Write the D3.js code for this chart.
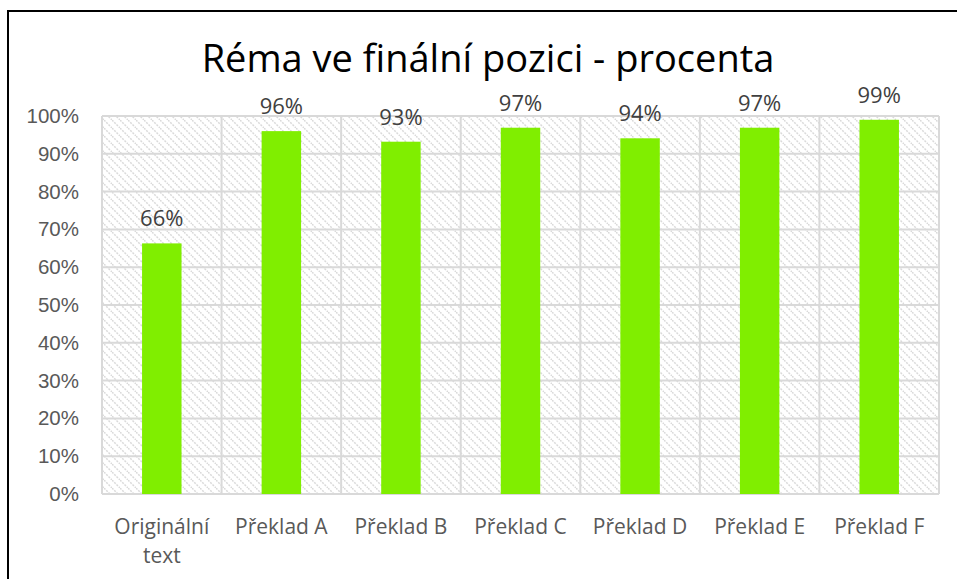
<!DOCTYPE html>
<html><head><meta charset="utf-8">
<script src="https://cdn.jsdelivr.net/npm/d3@7"></script>
<style>
body{margin:0;background:#fff;}
svg{display:block;font-family:"Open Sans","Noto Sans",sans-serif;}
</style></head>
<body>
<svg id="c" width="957" height="579"></svg>
<script>
const title = "Réma ve finální pozici - procenta";
const categories = ["Originální text","Překlad A","Překlad B","Překlad C","Překlad D","Překlad E","Překlad F"];
const categoryLines = [["Originální","text"],["Překlad A"],["Překlad B"],["Překlad C"],["Překlad D"],["Překlad E"],["Překlad F"]];
const values = [0.663,0.96,0.932,0.969,0.941,0.969,0.99];
const valueLabels = ["66%","96%","93%","97%","94%","97%","99%"];
const yTicks = [0,0.1,0.2,0.3,0.4,0.5,0.6,0.7,0.8,0.9,1.0];

const svg = d3.select("#c");
const m = {left:102, right:939, top:116, bottom:494};

svg.append("rect").attr("x",8).attr("y",11).attr("width",960).attr("height",600)
  .attr("fill","#fff").attr("stroke","#000").attr("stroke-width",2);

const defs = svg.append("defs");
const pat = defs.append("pattern").attr("id","hatch").attr("patternUnits","userSpaceOnUse")
  .attr("width",8).attr("height",8);
pat.append("rect").attr("width",8).attr("height",8).attr("fill","#fff");
pat.append("path").attr("d","M-2,6 L2,10 M0,0 L8,8 M6,-2 L10,2")
  .attr("stroke","#dadada").attr("stroke-width",1.5).attr("stroke-dasharray","2,1.2");

const x = d3.scaleBand().domain(categories).range([m.left,m.right]).paddingInner(0).paddingOuter(0);
const y = d3.scaleLinear().domain([0,1]).range([m.bottom,m.top]);

svg.append("rect").attr("x",m.left).attr("y",m.top).attr("width",m.right-m.left).attr("height",m.bottom-m.top)
  .attr("fill","url(#hatch)");

svg.append("g").selectAll("line").data(yTicks).join("line")
  .attr("x1",m.left).attr("x2",m.right).attr("y1",d=>y(d)).attr("y2",d=>y(d))
  .attr("stroke","#d9d9d9").attr("stroke-width",2);
const bounds = categories.map(c=>x(c)).concat([m.right]);
svg.append("g").selectAll("line").data(bounds).join("line")
  .attr("x1",d=>d).attr("x2",d=>d).attr("y1",m.top).attr("y2",m.bottom)
  .attr("stroke","#d9d9d9").attr("stroke-width",2);

const bw = x.bandwidth()*0.33;
svg.append("g").selectAll("rect").data(values).join("rect")
  .attr("x",(d,i)=>x(categories[i])+x.bandwidth()/2-bw/2)
  .attr("width",bw)
  .attr("y",d=>y(d)).attr("height",d=>y(0)-y(d))
  .attr("fill","#80ee00");

svg.append("g").selectAll("text").data(values).join("text")
  .attr("x",(d,i)=>x(categories[i])+x.bandwidth()/2)
  .attr("y",d=>y(d)-17)
  .attr("text-anchor","middle").attr("font-size",22).attr("fill","#404040")
  .text((d,i)=>valueLabels[i]);

const yAxis = d3.axisLeft(y).tickValues(yTicks).tickFormat(d3.format(".0%")).tickSize(0).tickPadding(23);
const ga = svg.append("g").attr("transform",`translate(${m.left},0)`).call(yAxis);
ga.select(".domain").remove();
ga.selectAll("text").attr("font-size",20.5).attr("fill","#595959").attr("font-family",null);

const gx = svg.append("g");
categoryLines.forEach((lines,i)=>{
  const cx = x(categories[i])+x.bandwidth()/2;
  const t = gx.append("text").attr("x",cx).attr("y",534)
    .attr("text-anchor","middle").attr("font-size",21).attr("fill","#595959");
  lines.forEach((l,j)=>t.append("tspan").attr("x",cx).attr("dy",j?29:0).text(l));
});

svg.append("text").attr("x",488).attr("y",72).attr("text-anchor","middle")
  .attr("font-size",38).attr("fill","#000").text(title);
</script>
</body></html>
